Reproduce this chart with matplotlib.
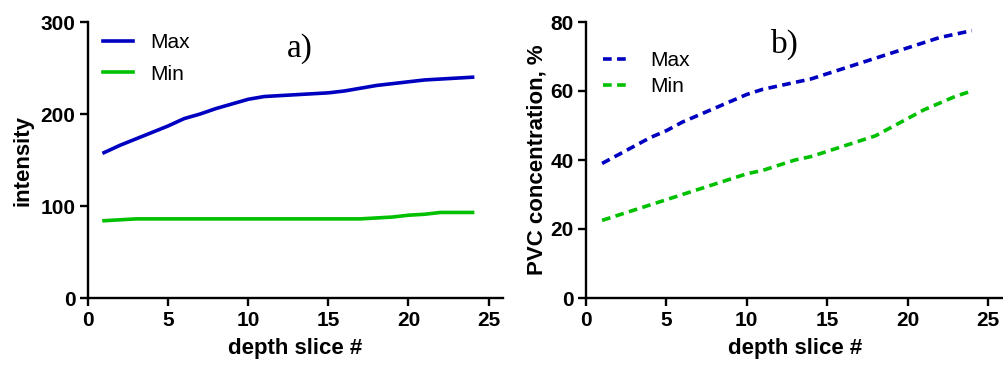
import matplotlib
matplotlib.use("Agg")
import matplotlib.pyplot as plt

plt.rcParams['font.family'] = ['Liberation Sans', 'DejaVu Sans']

x = list(range(1, 25))
a_max = [158, 166, 173, 180, 187, 195, 200, 206, 211, 216, 219, 220, 221, 222, 223, 225, 228, 231, 233, 235, 237, 238, 239, 240]
a_min = [84, 85, 86, 86, 86, 86, 86, 86, 86, 86, 86, 86, 86, 86, 86, 86, 86, 87, 88, 90, 91, 93, 93, 93]
b_max = [39, 41.5, 44, 46.5, 48.5, 51, 53, 55, 57, 59, 60.5, 61.5, 62.5, 63.5, 65, 66.5, 68, 69.5, 71, 72.5, 74, 75.5, 76.5, 77.5]
b_min = [22.5, 24, 25.5, 27, 28.5, 30, 31.5, 33, 34.5, 36, 37, 38.5, 40, 41, 42.5, 44, 45.5, 47, 49.5, 52, 54.5, 56.5, 58.5, 60]

a_yticks = [0, 100, 200, 300]
b_yticks = [0, 20, 40, 60, 80]
xticks = [0, 5, 10, 15, 20, 25]

blue = '#0000c0'
green = '#00c000'

fig = plt.figure(figsize=(10.04, 3.65), dpi=100)
W, H = 1004, 365
axa = fig.add_axes([88 / W, 1 - 298 / H, 415 / W, 276 / H])
axb = fig.add_axes([586 / W, 1 - 298 / H, 418 / W, 276 / H])

def style(ax, yt, ylim, xlim):
    for s in ['top', 'right']:
        ax.spines[s].set_visible(False)
    for s in ['left', 'bottom']:
        ax.spines[s].set_linewidth(1.7)
    ax.set_xlim(*xlim)
    ax.set_ylim(*ylim)
    ax.set_xticks(xticks)
    ax.set_yticks(yt)
    ax.tick_params(width=1.7, length=6, labelsize=15, pad=3)
    for lab in ax.get_xticklabels() + ax.get_yticklabels():
        lab.set_fontweight('bold')
    ax.set_xlabel('depth slice #', fontsize=16, fontweight='bold', labelpad=6)

axa.plot(x, a_max, color=blue, lw=2.6, label='Max')
axa.plot(x, a_min, color=green, lw=2.6, label='Min')
style(axa, a_yticks, (0, 300), (0, 25.9))
axa.set_ylabel('intensity', fontsize=16, fontweight='bold', labelpad=5)
axa.legend(loc='upper left', bbox_to_anchor=(0.036, 0.96), frameon=False, fontsize=15,
           borderpad=0, borderaxespad=0,
           handlelength=1.45, handletextpad=0.8, labelspacing=0.6)
axa.text(0.51, 0.902, 'a)', transform=axa.transAxes, fontsize=24,
         family=['Liberation Serif', 'DejaVu Serif'], ha='center', va='center')

axb.plot(x, b_max, color=blue, lw=2.6, ls=(0, (2.4, 1.5)), label='Max')
axb.plot(x, b_min, color=green, lw=2.6, ls=(0, (2.4, 1.5)), label='Min')
style(axb, b_yticks, (0, 80), (0, 26.0))
axb.set_ylabel('PVC concentration, %', fontsize=16, fontweight='bold', labelpad=2)
axb.legend(loc='upper left', bbox_to_anchor=(0.041, 0.895), frameon=False, fontsize=15,
           borderpad=0, borderaxespad=0,
           handlelength=1.15, handletextpad=1.1, labelspacing=0.33)
axb.text(0.476, 0.92, 'b)', transform=axb.transAxes, fontsize=24,
         family=['Liberation Serif', 'DejaVu Serif'], ha='center', va='center')

fig.savefig('out.png', dpi=100)
